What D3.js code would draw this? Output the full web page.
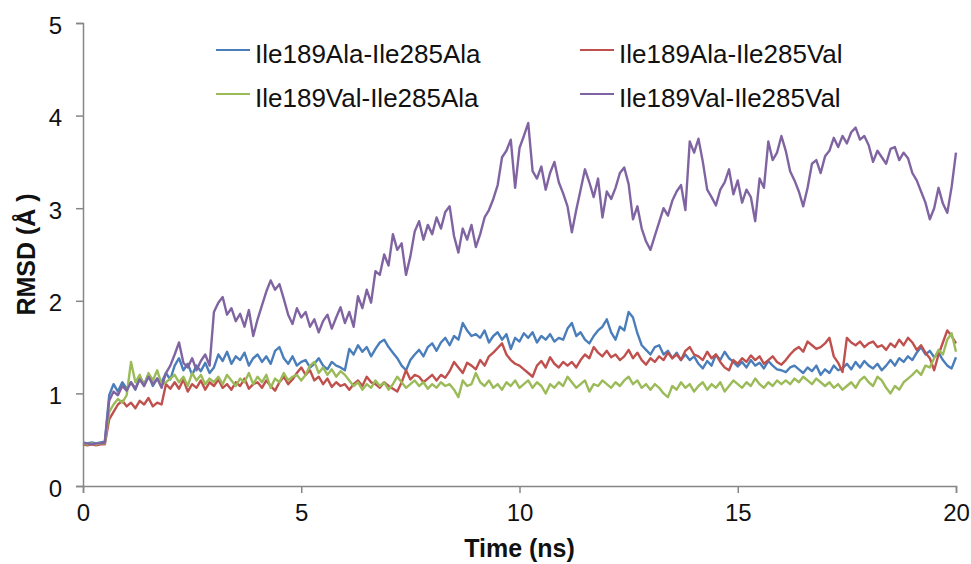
<!DOCTYPE html>
<html>
<head>
<meta charset="utf-8">
<script src="https://cdn.jsdelivr.net/npm/d3@7"></script>
<style>
  html, body { margin: 0; padding: 0; background: #fff; }
  svg { display: block; font-family: "Liberation Sans", Arial, sans-serif; }
</style>
</head>
<body>
<svg id="chart" width="971" height="564"></svg>
<script>
// ---- data ----
const seriesNames = ["Ile189Ala-Ile285Ala", "Ile189Ala-Ile285Val", "Ile189Val-Ile285Ala", "Ile189Val-Ile285Val"];
const seriesColors = ["#4A7EBB", "#C0504D", "#9BBB59", "#8064A2"];
const timeStep = 0.1; // ns between samples
const xTicks = [0, 5, 10, 15, 20];
const yTicks = [0, 1, 2, 3, 4, 5];

const ala189ala285 = [
  0.47,0.46,0.47,0.46,0.47,0.48,
  0.98,1.1,1.02,1.12,1.05,
  1.12,1.04,1.18,1.1,1.2,1.08,1.16,1.12,1.22,1.15,
  1.3,1.38,1.25,1.32,1.2,1.3,1.24,1.33,1.22,1.28,
  1.42,1.35,1.45,1.32,1.4,1.36,1.44,1.3,1.38,1.42,
  1.34,1.4,1.32,1.46,1.5,1.38,1.32,1.4,1.3,1.34,
  1.36,1.28,1.32,1.38,1.3,1.26,1.34,1.3,1.28,1.25,
  1.48,1.42,1.52,1.45,1.5,1.4,1.48,1.55,1.58,1.5,
  1.44,1.38,1.3,1.25,1.36,1.42,1.47,1.4,1.5,1.54,
  1.46,1.55,1.6,1.52,1.62,1.58,1.76,1.68,1.62,1.64,
  1.6,1.68,1.55,1.62,1.66,1.58,1.64,1.48,1.6,1.56,
  1.65,1.6,1.66,1.55,1.62,1.58,1.64,1.56,1.6,1.58,
  1.7,1.76,1.62,1.66,1.58,1.54,1.62,1.68,1.72,1.8,
  1.66,1.58,1.72,1.68,1.88,1.82,1.65,1.52,1.47,1.42,
  1.5,1.52,1.42,1.46,1.38,1.44,1.36,1.42,1.36,1.4,
  1.32,1.27,1.35,1.3,1.42,1.36,1.45,1.38,1.34,1.29,
  1.34,1.28,1.36,1.3,1.33,1.27,1.35,1.3,1.26,1.25,
  1.23,1.28,1.3,1.26,1.22,1.28,1.24,1.3,1.2,1.26,
  1.22,1.3,1.25,1.27,1.32,1.26,1.34,1.28,1.35,1.3,
  1.27,1.32,1.25,1.3,1.36,1.3,1.38,1.34,1.4,1.36,
  1.44,1.5,1.42,1.46,1.39,1.44,1.36,1.3,1.27,1.39
];
const ala189val285 = [
  0.45,0.44,0.45,0.44,0.45,0.45,
  0.72,0.8,0.88,0.92,0.86,
  0.9,0.84,0.92,0.88,0.95,0.86,0.9,0.88,1.1,1.05,
  1.12,1.05,1.15,1.02,1.1,1.06,1.14,1.04,1.12,1.08,
  1.15,1.06,1.1,1.04,1.12,1.08,1.16,1.05,1.1,1.12,
  1.06,1.14,1.08,1.03,1.12,1.18,1.1,1.15,1.22,1.28,
  1.2,1.25,1.14,1.18,1.1,1.16,1.07,1.12,1.08,1.1,
  1.04,1.1,1.14,1.08,1.18,1.12,1.1,1.06,1.12,1.08,
  1.05,1.02,1.12,1.25,1.15,1.2,1.18,1.12,1.16,1.2,
  1.14,1.2,1.17,1.24,1.34,1.28,1.22,1.33,1.3,1.26,
  1.36,1.3,1.4,1.44,1.49,1.54,1.42,1.36,1.32,1.3,
  1.26,1.22,1.18,1.3,1.35,1.28,1.39,1.32,1.28,1.34,
  1.3,1.34,1.28,1.36,1.42,1.38,1.5,1.44,1.4,1.46,
  1.39,1.42,1.36,1.4,1.47,1.38,1.44,1.36,1.31,1.38,
  1.34,1.4,1.36,1.44,1.38,1.42,1.36,1.46,1.5,1.42,
  1.4,1.36,1.45,1.38,1.42,1.34,1.28,1.25,1.36,1.32,
  1.38,1.34,1.41,1.36,1.4,1.32,1.36,1.4,1.34,1.31,
  1.36,1.42,1.47,1.5,1.45,1.56,1.52,1.48,1.5,1.54,
  1.6,1.4,1.33,1.23,1.6,1.55,1.52,1.56,1.5,1.54,
  1.56,1.5,1.52,1.47,1.54,1.5,1.58,1.52,1.6,1.55,
  1.47,1.52,1.44,1.38,1.25,1.42,1.55,1.68,1.62,1.54
];
const val189ala285 = [
  0.46,0.45,0.46,0.45,0.46,0.46,
  0.8,0.88,0.94,0.9,0.98,
  1.34,1.12,1.2,1.08,1.22,1.14,1.25,1.1,1.12,1.16,
  1.2,1.12,1.18,1.08,1.22,1.14,1.2,1.1,1.16,1.12,
  1.18,1.1,1.2,1.14,1.08,1.16,1.12,1.22,1.1,1.18,
  1.12,1.2,1.06,1.16,1.12,1.22,1.14,1.18,1.2,1.14,
  1.2,1.3,1.34,1.22,1.28,1.2,1.26,1.18,1.24,1.2,
  1.14,1.08,1.12,1.04,1.1,1.06,1.14,1.08,1.12,1.04,
  1.1,1.18,1.12,1.06,1.1,1.14,1.08,1.12,1.05,1.1,
  1.06,1.12,1.08,1.1,1.04,0.96,1.14,1.08,1.1,1.22,
  1.12,1.08,1.14,1.06,1.1,1.04,1.12,1.08,1.14,1.06,
  1.1,1.14,1.06,1.12,1.08,1.0,1.1,1.06,1.12,1.08,
  1.18,1.12,1.06,1.1,1.14,1.02,1.1,1.08,1.14,1.1,
  1.06,1.12,1.08,1.14,1.18,1.1,1.14,1.06,1.1,1.04,
  1.1,1.06,1.0,0.96,1.08,1.04,1.12,1.06,1.1,1.02,
  1.08,1.12,1.04,1.1,1.06,1.12,1.02,1.08,1.14,1.1,
  1.06,1.12,1.08,1.16,1.1,1.06,1.12,1.08,1.14,1.1,
  1.14,1.1,1.16,1.12,1.18,1.14,1.1,1.16,1.12,1.08,
  1.12,1.06,1.1,1.04,1.08,1.12,1.06,1.14,1.18,1.12,
  1.08,1.18,1.14,1.06,1.0,1.08,1.04,1.12,1.16,1.2,
  1.25,1.2,1.3,1.28,1.38,1.47,1.42,1.58,1.65,1.45
];
const val189val285 = [
  0.46,0.46,0.45,0.46,0.46,0.47,
  0.92,1.02,0.98,1.08,1.03,
  1.12,1.05,1.15,1.08,1.18,1.1,1.16,1.06,1.22,1.3,
  1.42,1.55,1.33,1.28,1.38,1.25,1.35,1.42,1.3,1.88,
  1.98,2.04,1.85,1.92,1.78,1.86,1.72,1.9,1.62,1.8,
  1.95,2.1,2.22,2.12,2.18,2.02,1.85,1.75,1.92,1.82,
  1.88,1.72,1.8,1.66,1.78,1.85,1.7,1.82,1.93,1.76,
  1.88,1.72,2.05,1.92,2.12,1.98,2.32,2.28,2.5,2.38,
  2.72,2.55,2.62,2.28,2.48,2.75,2.86,2.66,2.82,2.72,
  2.9,2.78,2.96,3.02,2.7,2.52,2.78,2.66,2.82,2.58,
  2.72,2.9,2.98,3.1,3.25,3.55,3.62,3.74,3.22,3.65,
  3.78,3.92,3.4,3.32,3.45,3.2,3.38,3.5,3.28,3.16,
  3.02,2.74,2.98,3.2,3.42,3.28,3.12,3.32,2.9,3.18,
  3.1,3.22,3.38,3.44,3.26,2.88,3.02,2.78,2.64,2.55,
  2.7,2.85,3.0,2.92,3.08,3.18,3.25,2.98,3.72,3.6,
  3.75,3.5,3.2,3.12,3.03,3.2,3.28,3.42,3.15,3.3,
  3.06,3.2,3.12,2.86,3.32,3.22,3.72,3.52,3.6,3.78,
  3.62,3.4,3.3,3.18,3.02,3.22,3.48,3.52,3.38,3.56,
  3.62,3.76,3.66,3.78,3.7,3.82,3.87,3.74,3.78,3.68,
  3.5,3.62,3.55,3.48,3.64,3.66,3.52,3.6,3.54,3.38,
  3.3,3.18,3.06,2.88,3.0,3.22,3.05,2.95,3.23,3.6
];
const seriesValues = [ala189ala285, ala189val285, val189ala285, val189val285];

// ---- chart ----
const svg = d3.select("#chart");
const axisColor = "#868686";
const x = d3.scaleLinear().domain([0, 20]).range([83, 956]);
const y = d3.scaleLinear().domain([0, 5]).range([486, 23]);

const line = d3.line()
  .x((d, i) => x(i * timeStep))
  .y(d => y(d));

const lines = svg.append("g");
seriesValues.forEach((vals, k) => {
  lines.append("path")
    .datum(vals)
    .attr("d", line)
    .attr("fill", "none")
    .attr("stroke", seriesColors[k])
    .attr("stroke-width", 2.4)
    .attr("stroke-linejoin", "round");
});

// axes
const xAxis = svg.append("g")
  .attr("transform", `translate(0,${y(0)})`)
  .call(d3.axisBottom(x).tickValues(xTicks).tickSize(7).tickPadding(11).tickFormat(d3.format("d")));
const yAxis = svg.append("g")
  .attr("transform", `translate(${x(0)},0)`)
  .call(d3.axisLeft(y).tickValues(yTicks).tickSize(7).tickPadding(14).tickFormat(d3.format("d")));

[xAxis, yAxis].forEach(g => {
  g.select(".domain").attr("stroke", axisColor).attr("stroke-width", 1.5);
  g.selectAll(".tick line").attr("stroke", axisColor).attr("stroke-width", 1.5);
  g.selectAll(".tick text")
    .attr("fill", "#111")
    .style("font-family", "'Liberation Sans', Arial, sans-serif")
    .style("font-size", "24px");
});
yAxis.selectAll(".tick text").attr("dy", "0.42em");

// axis titles
svg.append("text")
  .attr("x", (x(0) + x(20)) / 2)
  .attr("y", 557)
  .attr("text-anchor", "middle")
  .style("font-size", "25px")
  .style("font-weight", "bold")
  .attr("fill", "#111")
  .text("Time (ns)");

svg.append("text")
  .attr("transform", `translate(35,${(y(0) + y(5)) / 2}) rotate(-90)`)
  .attr("text-anchor", "middle")
  .style("font-size", "25px")
  .style("font-weight", "bold")
  .attr("fill", "#111")
  .text("RMSD (Å )");

// legend
const legendPos = [
  { lx: 216, ty: 63 },
  { lx: 580, ty: 63 },
  { lx: 216, ty: 107 },
  { lx: 580, ty: 107 }
];
const legend = svg.append("g");
seriesNames.forEach((name, k) => {
  const p = legendPos[k];
  legend.append("line")
    .attr("x1", p.lx).attr("x2", p.lx + 34)
    .attr("y1", p.ty - 13).attr("y2", p.ty - 13)
    .attr("stroke", seriesColors[k])
    .attr("stroke-width", 2);
  legend.append("text")
    .attr("x", p.lx + 39)
    .attr("y", p.ty)
    .style("font-size", "26px")
    .attr("fill", "#111")
    .text(name);
});
</script>
</body>
</html>
